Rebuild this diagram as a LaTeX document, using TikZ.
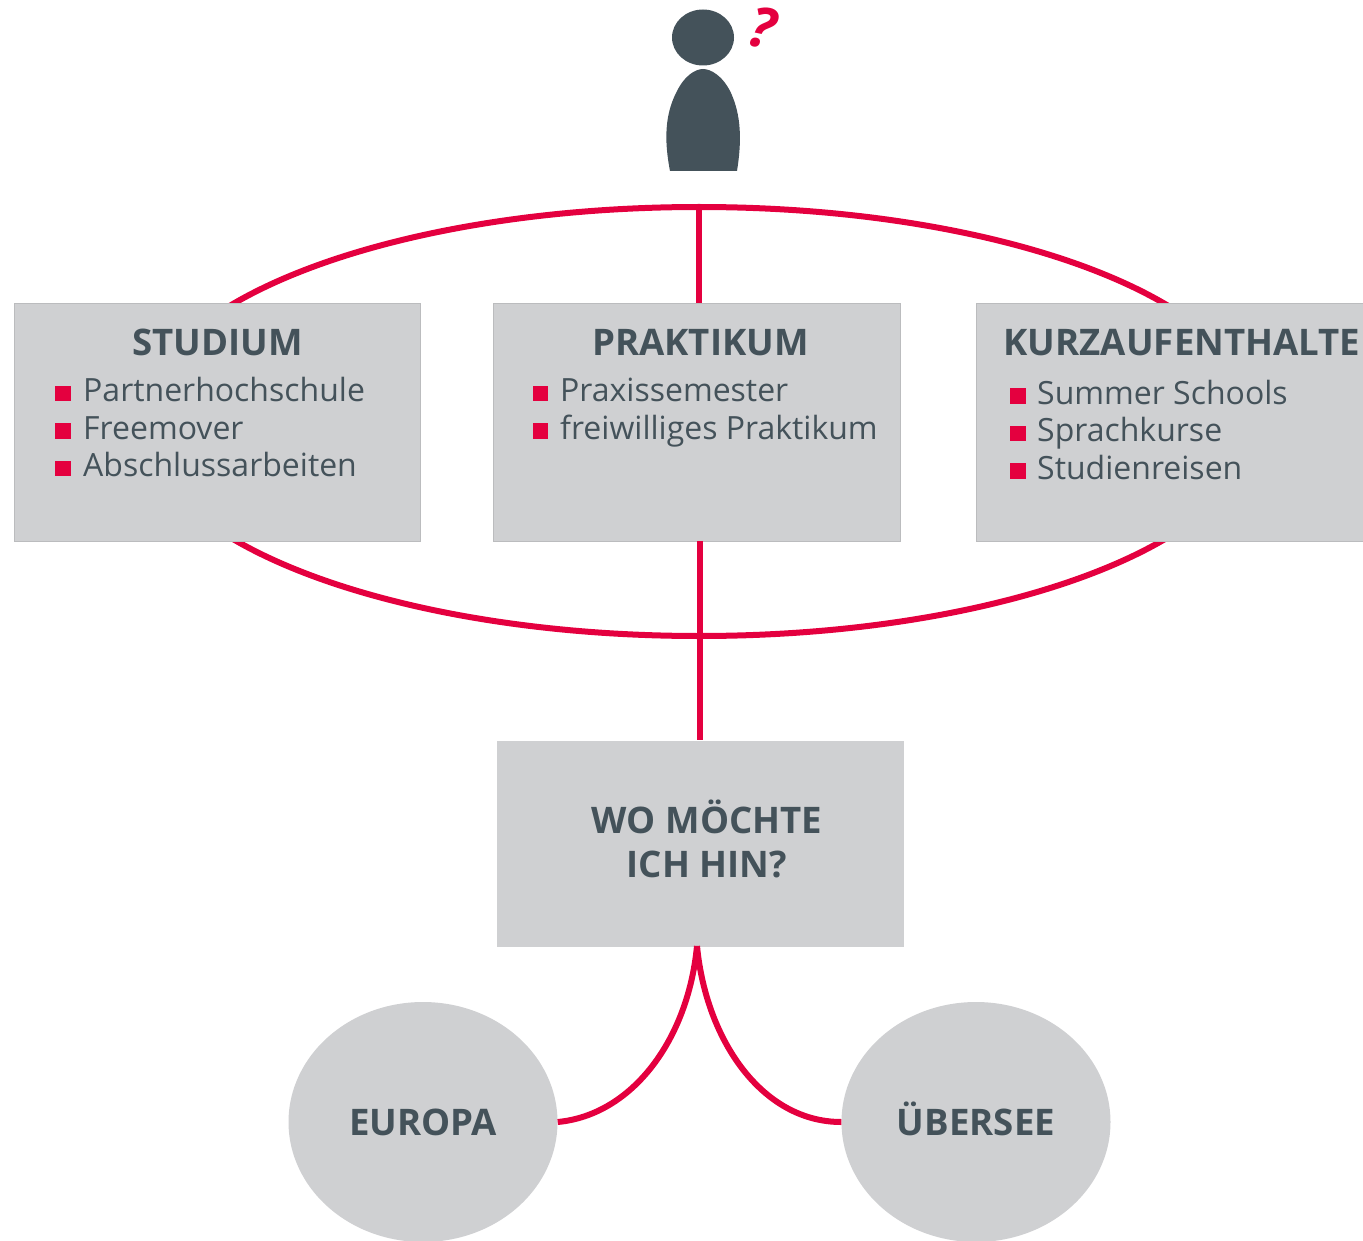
\documentclass[tikz,border=0pt]{standalone}
\usepackage{fontspec}
\setmainfont{Open Sans}
\usetikzlibrary{shapes.geometric}
\definecolor{inkdark}{HTML}{44525A}
\definecolor{accent}{HTML}{E4003F}
\definecolor{panel}{HTML}{CFD0D2}
\definecolor{panelline}{HTML}{BBBCBE}
\tikzset{
  x=1pt,y=-1pt,
  panelbox/.style={draw=panelline,line width=1pt,fill=panel,minimum width=#1,minimum height=238.5pt,inner sep=0pt},
  link/.style={draw=accent,line width=6pt},
  head/.style={text=inkdark,font=\fontsize{36.6}{40}\selectfont\bfseries,inner sep=0pt,anchor=base,align=center},
  itemtext/.style={text=inkdark,font=\fontsize{32}{36}\selectfont,inner sep=0pt,anchor=base west},
  bullet/.style={fill=accent,minimum size=15.5pt,inner sep=0pt},
  blob/.style={ellipse,fill=panel,minimum width=269pt,minimum height=240pt,inner sep=0pt},
}
\begin{document}
\begin{tikzpicture}
\useasboundingbox (0,0) rectangle (1363,1241);
% ring behind the panels
\node[ellipse,link,fill=none,minimum width=1114pt,minimum height=429pt,inner sep=0pt] (ring) at (699,421.5) {};
% panels
\node[panelbox=406pt] (stud) at (217.5,422.5) {};
\node[panelbox=407pt] (prak) at (696.5,422.5) {};
\node[panelbox=400pt] (kurz) at (1176,422.5) {};
\node[fill=panel,minimum width=407pt,minimum height=206pt,inner sep=0pt] (wo) at (700,843.5) {};
\node[blob] (eu) at (423,1122) {};
\node[blob] (ue) at (976,1122) {};
% connectors
\coordinate (praktop) at (prak.north -| ring.north);
\draw[link] (ring.north) -- (praktop);
\coordinate (prakbotA) at (700,541);
\draw[link] (prakbotA) -- (wo.north);
\coordinate (wofork) at (697,946);
\draw[link] (wofork) .. controls (688,1040) and (632,1115) .. (eu.east);
\draw[link] (wofork) .. controls (706,1040) and (762,1122) .. (ue.west);
% person
\node[ellipse,fill=inkdark,minimum width=62pt,minimum height=56pt,inner sep=0pt] (phead) at (703,37.5) {};
\path[fill=inkdark] (670,171) .. controls (664,140) and (665,115) .. (676,93)
  .. controls (684,76) and (695,69) .. (703,69)
  .. controls (711,69) and (723,76) .. (731,93)
  .. controls (741,115) and (742,140) .. (737,171) -- cycle;
\node[text=accent,font=\fontsize{56}{56}\selectfont\bfseries\itshape,rotate=-12,inner sep=0pt] (qm) at (762,28) {?};
% headings
\node[head] (t1) at (217.5,355.5) {STUDIUM};
\node[head] (t2) at (700.5,355.5) {PRAKTIKUM};
\node[head] (t3) at (1182,355.5) {KURZAUFENTHALTE};
\node[head] (t4) at (707,833) {WO MÖCHTE};
\node[head] (t5) at (707,877) {ICH HIN?};
\node[head] (t6) at (423,1135) {EUROPA};
\node[head] (t7) at (976,1135) {ÜBERSEE};
% lists
\node[bullet] (b11) at (63,393.5) {};
\node[bullet] (b12) at (63,431) {};
\node[bullet] (b13) at (63,468.5) {};
\node[itemtext] (i11) at (83,401.5) {Partnerhochschule};
\node[itemtext] (i12) at (83,439) {Freemover};
\node[itemtext] (i13) at (83,476.5) {Abschlussarbeiten};
\node[bullet] (b21) at (540.5,393.5) {};
\node[bullet] (b22) at (540.5,431) {};
\node[itemtext] (i21) at (560,401.5) {Praxissemester};
\node[itemtext] (i22) at (560,439) {freiwilliges Praktikum};
\node[bullet] (b31) at (1018,396) {};
\node[bullet] (b32) at (1018,433.5) {};
\node[bullet] (b33) at (1018,471) {};
\node[itemtext] (i31) at (1037,404) {Summer Schools};
\node[itemtext] (i32) at (1037,441.5) {Sprachkurse};
\node[itemtext] (i33) at (1037,479) {Studienreisen};
\end{tikzpicture}
\end{document}
